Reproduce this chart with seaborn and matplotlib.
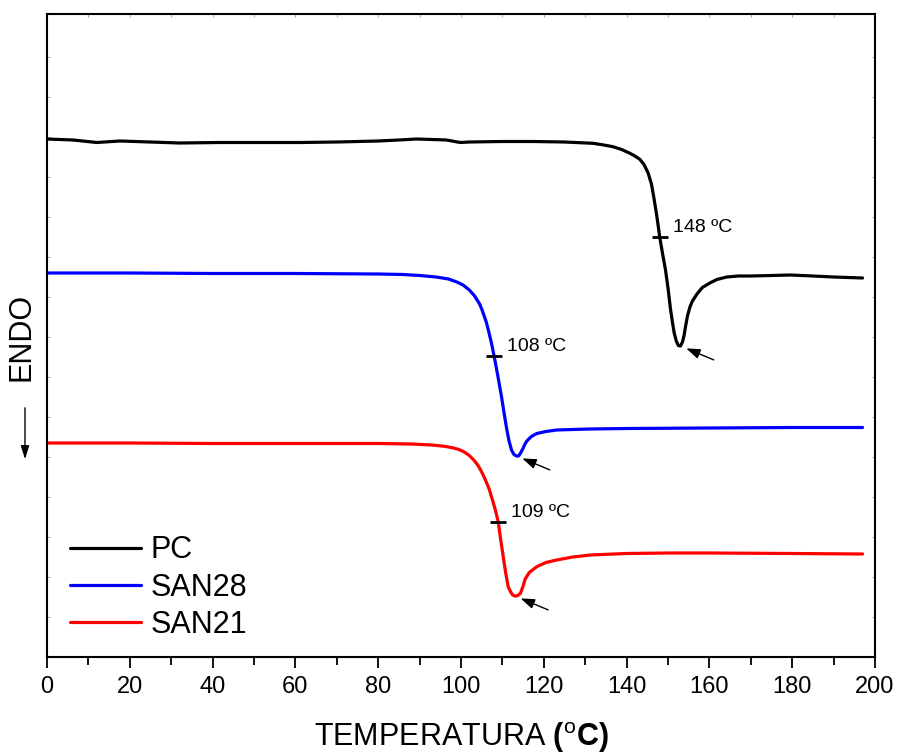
import numpy as np
import pandas as pd
import matplotlib
matplotlib.use("Agg")
import matplotlib.pyplot as plt
import seaborn as sns

# DSC heating scans (signal in arbitrary units, endothermic downward)
pc_temp = [0, 6.3, 12, 17.6, 24.9, 32, 41.8, 50, 61, 70, 80, 85, 89.3, 93, 96.5, 98.5,
           99.8, 102, 110, 117.4, 125, 131.9, 134.5, 136.7, 138.8, 140.8, 142, 143.2,
           144.2, 145.2, 146, 146.6, 147.3, 148, 148.7, 149.4, 150, 150.6, 151.1, 151.5,
           152, 152.5, 153, 153.5, 153.9, 154.3, 154.7, 155.3, 155.9, 157, 158.3, 160.1,
           161.8, 164.2, 167, 170, 175, 179.5, 185, 190, 197]
pc_signal = [51.8, 51.7, 51.45, 51.6, 51.5, 51.4, 51.45, 51.45, 51.45, 51.5, 51.6, 51.7,
             51.8, 51.75, 51.7, 51.55, 51.45, 51.5, 51.55, 51.55, 51.5, 51.37, 51.2,
             51.03, 50.75, 50.37, 50.1, 49.77, 49.25, 48.4, 47.3, 45.9, 44.1, 42.0, 40.3,
             38.7, 36.9, 34.8, 33.4, 32.4, 31.6, 31.15, 31.1, 31.5, 32.2, 33.2, 34.1, 35.0,
             35.6, 36.3, 36.95, 37.4, 37.75, 38.0, 38.1, 38.1, 38.15, 38.2, 38.1, 38.0, 37.9]

san28_temp = [0, 20, 40, 60, 80, 86, 90, 94, 97, 99, 100.5, 102, 103.3, 104.5, 105,
              105.6, 106.1, 106.6, 107.3, 108, 108.9, 109.8, 110.4, 111, 111.6, 112.2,
              112.8, 113.4, 113.9, 114.4, 114.9, 115.4, 115.9, 117, 118.3, 120.5, 123.1,
              127, 131.2, 140, 160, 180, 197]
san28_signal = [38.4, 38.4, 38.35, 38.35, 38.3, 38.25, 38.15, 38.0, 37.8, 37.5, 37.2,
                36.7, 36.1, 35.3, 34.8, 34.1, 33.5, 32.7, 31.5, 30.1, 28.1, 26.0, 24.4,
                22.9, 21.6, 20.7, 20.25, 20.1, 20.1, 20.4, 20.8, 21.25, 21.6, 22.05,
                22.35, 22.55, 22.7, 22.75, 22.8, 22.85, 22.9, 22.95, 22.95]

san21_temp = [0, 20, 40, 60, 80, 88, 93, 96, 98, 99.5, 100.8, 102, 103.2, 104.2, 105,
              105.8, 106.8, 107.6, 108.3, 109, 109.6, 110.2, 110.8, 111.4, 112, 112.5,
              113, 113.4, 113.9, 114.4, 115, 115.5, 116.5, 118.3, 120.5, 123.1, 127,
              131.2, 140, 150, 160, 180, 197]
san21_signal = [21.4, 21.4, 21.35, 21.35, 21.35, 21.3, 21.2, 21.07, 20.92, 20.75, 20.5,
                20.15, 19.65, 19.1, 18.5, 17.8, 16.8, 15.7, 14.7, 13.5, 11.7, 10.03, 8.4,
                7.03, 6.5, 6.2, 6.1, 6.1, 6.2, 6.4, 7.1, 7.8, 8.45, 9.03, 9.45, 9.7, 10.0,
                10.2, 10.35, 10.4, 10.4, 10.35, 10.3]

samples = ["PC", "SAN28", "SAN21"]
colors = ["black", "blue", "red"]
tg_values = [148, 108, 109]
tg_labels = ["148 ºC", "108 ºC", "109 ºC"]

series = {
    "PC": (pc_temp, pc_signal),
    "SAN28": (san28_temp, san28_signal),
    "SAN21": (san21_temp, san21_signal),
}

frames = [pd.DataFrame({"T": t, "signal": s, "sample": name})
          for name, (t, s) in series.items()]
df = pd.concat(frames, ignore_index=True)

sns.set_theme(style="ticks")
plt.rcParams["font.family"] = ["Liberation Sans", "DejaVu Sans"]
plt.rcParams["mathtext.fontset"] = "custom"
plt.rcParams["mathtext.rm"] = "Liberation Sans"
plt.rcParams["mathtext.bf"] = "Liberation Sans:bold"
plt.rcParams["text.color"] = "black"
plt.rcParams["axes.labelcolor"] = "black"
plt.rcParams["xtick.color"] = "black"
plt.rcParams["ytick.color"] = "black"

fig = plt.figure(figsize=(8.97, 7.56), dpi=100)
ax = fig.add_axes([47 / 897, 99 / 756, 828 / 897, 643 / 756])

sns.lineplot(data=df, x="T", y="signal", hue="sample", hue_order=samples,
             palette=dict(zip(samples, colors)), estimator=None, sort=False,
             linewidth=2.3, ax=ax, legend=False)

for name, tg, lab in zip(samples, tg_values, tg_labels):
    t, s = series[name]
    t = np.asarray(t)
    s = np.asarray(s)
    y_tg = np.interp(tg, t, s)
    # short horizontal bar marking the glass transition
    ax.plot([tg], [y_tg], marker="_", markersize=11, markeredgewidth=2,
            color="black", zorder=5)
    ax.annotate(lab, xy=(tg, y_tg), xytext=(9.5, 6.5), textcoords="offset points",
                ha="left", va="center", fontsize=14, color="black")
    # arrow pointing at the peak
    i = int(np.argmin(s))
    ax.annotate("", xy=(t[i], s[i]), xytext=(24, -10), textcoords="offset points",
                arrowprops=dict(arrowstyle="-|>,head_length=0.7,head_width=0.25",
                                color="black", lw=1.0, shrinkA=0, shrinkB=4.5))

ax.set_xlim(0, 200)
ax.set_ylim(0, 64.3)
ax.set_xticks(np.arange(0, 201, 20))
ax.set_xticks(np.arange(10, 200, 20), minor=True)
ax.set_yticks(np.arange(4, 64, 4))
ax.set_yticklabels([])
ax.tick_params(axis="x", which="major", direction="out", length=8, width=1.3,
               labelsize=17, pad=6, colors="black")
ax.tick_params(axis="x", which="minor", direction="out", length=5.5, width=1.3,
               colors="black")
ax.tick_params(axis="y", which="major", direction="in", length=2, width=0.6,
               left=True, right=True, colors="#999999")
ax.set_ylabel("")
ax.set_xlabel(r"TEMPERATURA $\mathbf{(}^{\mathrm{o}}\mathbf{C)}$", fontsize=22, labelpad=16)

# small inward ticks on the top edge
ax_top = ax.secondary_xaxis("top")
ax_top.set_xticks(np.arange(0, 201, 10))
ax_top.tick_params(direction="in", length=2, width=0.6, labeltop=False, colors="#999999")
ax_top.spines["top"].set_visible(False)

for sp in ax.spines.values():
    sp.set_linewidth(1.5)
    sp.set_color("black")

handles = [plt.Line2D([], [], color=c, lw=2.3) for c in colors]
ax.legend(handles, samples, loc="lower left", bbox_to_anchor=(-0.004, -0.014),
          frameon=False, fontsize=22, handlelength=2.35, handletextpad=0.3,
          labelspacing=0.24, borderaxespad=0.45)

fig.text(22 / 897, 1 - 337 / 756, "ENDO", rotation=90, ha="center", va="center",
         fontsize=22)
fig.patches.append(matplotlib.patches.FancyArrowPatch(
    (25 / 897, 1 - 405 / 756), (25 / 897, 1 - 462 / 756),
    transform=fig.transFigure, arrowstyle="-|>,head_length=0.8,head_width=0.25",
    mutation_scale=10, color="black", lw=1.0))

fig.savefig("out.png", dpi=100, facecolor="white")
